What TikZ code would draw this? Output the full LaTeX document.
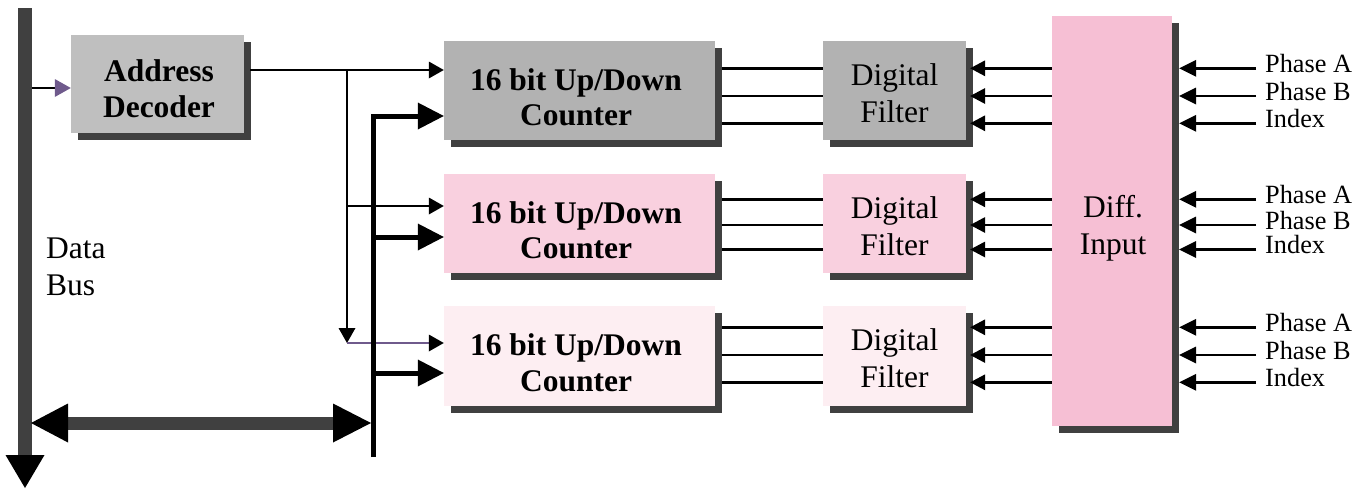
\documentclass[tikz,border=0pt]{standalone}
\usepackage{fontspec}
\setmainfont{Liberation Serif}
\usetikzlibrary{arrows.meta,shadows}
\definecolor{shd}{HTML}{404040}
\definecolor{decg}{HTML}{BFBFBF}
\definecolor{rowa}{HTML}{B2B2B2}
\definecolor{rowb}{HTML}{F9D0DF}
\definecolor{rowc}{HTML}{FDEEF2}
\definecolor{diffc}{HTML}{F6BFD4}
\definecolor{purp}{HTML}{6F5A8C}
\begin{document}
\begin{tikzpicture}[x=1pt,y=-1pt,
  box/.style={rectangle, draw=none, inner sep=0pt,
    general shadow={fill=shd, shadow xshift=7pt, shadow yshift=-7pt}},
  btxt/.style={inner sep=0pt, align=center, font=\fontsize{31.5}{35.5}\selectfont\bfseries},
  rtxt/.style={inner sep=0pt, align=center, font=\fontsize{31.5}{37}\selectfont},
  phl/.style={inner sep=0pt, font=\fontsize{26.3}{30}\selectfont},
  thinarr/.style={line width=2pt, black, -{Triangle[length=15pt,width=17pt,line width=0pt]}},
  thickarr/.style={line width=5pt, black, line join=miter, -{Triangle[length=26pt,width=27pt,line width=0pt]}},
  wire/.style={line width=2.7pt, black},
  warr/.style={line width=2.7pt, black, -{Triangle[length=15pt,width=16pt,line width=0pt]}},
  iarr/.style={line width=2.7pt, black, -{Triangle[length=17pt,width=17pt,line width=0pt]}}
]
\useasboundingbox (0,0) rectangle (1368,490);

% data bus bar
\coordinate (bustop) at (25,8);
\coordinate (busbot) at (25,488);
\draw[line width=13.5pt, shd, -{Triangle[length=33pt,width=39pt,color=black,line width=0pt]}] (bustop) -- (busbot);

% address decoder
\node[box, fill=decg, minimum width=173pt, minimum height=98pt] (dec) at (157.5,84) {};
\node[btxt] (dect) at (159,88.5) {Address\\Decoder};

% counters and filters
\foreach \r/\cy/\col in {1/90.5/rowa, 2/223.5/rowb, 3/356/rowc} {
  \node[box, fill=\col, minimum width=271pt, minimum height=99.5pt] (c\r) at (579.5,\cy) {};
  \node[btxt] (ct\r) at (576,\cy+7) {16 bit Up/Down\\Counter};
  \node[box, fill=\col, minimum width=143pt, minimum height=99.5pt] (f\r) at (894.5,\cy) {};
  \node[rtxt] (ft\r) at (894.5,\cy+2.5) {Digital\\Filter};
}

% differential input
\node[box, fill=diffc, minimum width=120pt, minimum height=410pt] (di) at (1112,221) {};
\node[rtxt] (dit) at (1113,228) {Diff.\\Input};

% Data Bus label
\node[rtxt, align=left, anchor=west] (db) at (46,267) {Data\\Bus};

% bus to decoder
\coordinate (busr) at (32,88);
\draw[line width=2pt, black, -{Triangle[length=16pt,width=18pt,color=purp,line width=0pt]}] (busr) -- (busr -| dec.west);

% decoder outputs
\coordinate (decout) at (250,70);
\coordinate (br1) at (347,70);
\coordinate (br2) at (347,206);
\coordinate (br3) at (347,343);
\draw[thinarr] (decout) -- (decout -| c1.west);
\draw[thinarr] (br1) -- (br3);
\draw[thinarr] (br2) -- (br2 -| c2.west);
\draw[line width=2pt, purp, -{Triangle[length=15pt,width=17pt,color=black,line width=0pt]}] (br3) -- (br3 -| c3.west);

% internal data bus
\coordinate (tbtop) at (373,116);
\coordinate (tbbot) at (373,457);
\coordinate (tb2) at (373,237);
\coordinate (tb3) at (373,373);
\draw[thickarr] (tbbot) -- (tbtop) -- (tbtop -| c1.west);
\draw[thickarr] (tb2) -- (tb2 -| c2.west);
\draw[thickarr] (tb3) -- (tb3 -| c3.west);

% bidirectional bus link
\coordinate (bl) at (31,423);
\coordinate (brr) at (371,423);
\draw[line width=13pt, shd, {Triangle[length=37pt,width=39pt,color=black,line width=0pt]}-{Triangle[length=38pt,width=39pt,color=black,line width=0pt]}] (bl) -- (brr);

% signal lines
\foreach \r/\ya/\yb/\yc in {1/68.3/96/123.3, 2/199.3/225/249.5, 3/327.3/355/382.3} {
  \foreach \y/\lab/\nm in {\ya/Phase A/pa, \yb/Phase B/pb, \yc/Index/ix} {
    \draw[wire, shorten <=7pt] (c\r.east |- 0,\y) -- (f\r.west |- 0,\y);
    \draw[warr, shorten >=4pt] (di.west |- 0,\y) -- (f\r.east |- 0,\y);
    \coordinate (in\nm\r) at (1256,\y);
    \draw[iarr, shorten >=7pt] (in\nm\r) -- (in\nm\r -| di.east);
    \node[phl, anchor=base west] (\nm\r) at (1265,\y+4) {\lab};
  }
}
\end{tikzpicture}
\end{document}
